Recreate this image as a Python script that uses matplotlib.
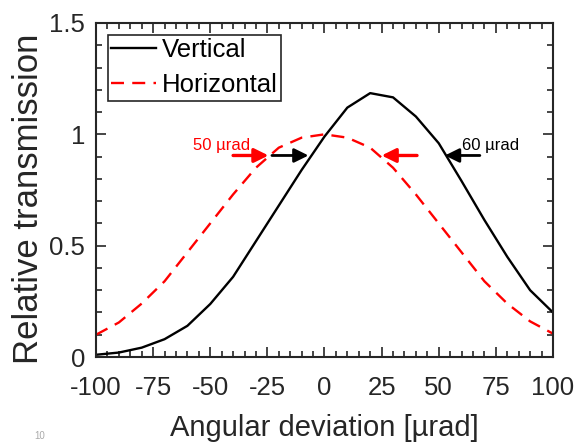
import matplotlib
matplotlib.use("Agg")
import matplotlib.pyplot as plt
from matplotlib.ticker import MultipleLocator

plt.rcParams['font.family'] = ['Liberation Sans', 'DejaVu Sans']
plt.rcParams['axes.unicode_minus'] = False

# angular deviation [urad]
angle = [-100, -90, -80, -70, -60, -50, -40, -30, -20, -10, 0,
         10, 20, 30, 40, 50, 60, 70, 80, 90, 100]
vertical = [0.01, 0.02, 0.042, 0.08, 0.14, 0.238, 0.36, 0.52, 0.68, 0.84, 0.99,
            1.12, 1.185, 1.166, 1.08, 0.96, 0.79, 0.615, 0.45, 0.30, 0.20]
horizontal = [0.10, 0.155, 0.24, 0.34, 0.47, 0.60, 0.73, 0.85, 0.94, 0.985, 1.0,
              0.985, 0.94, 0.85, 0.73, 0.60, 0.47, 0.34, 0.24, 0.16, 0.105]

xticks = [-100, -75, -50, -25, 0, 25, 50, 75, 100]
yticks = [0, 0.5, 1, 1.5]
yticklabels = ['0', '0.5', '1', '1.5']

# width arrows (start, end) at the level y_arrow
y_arrow = 0.905
red_arrows = [(-40, -24.5), (40.5, 25)]
black_arrows = [(-23, -7), (68, 52.7)]

fig = plt.figure(figsize=(5.78, 4.42), dpi=100)
ax = fig.add_axes([0.1661, 0.1923, 0.7906, 0.7557])

ax.plot(angle, vertical, color='black', lw=1.7, label='Vertical')
ax.plot(angle, horizontal, color='red', lw=1.7, linestyle=(0, (5.5, 3.5)),
        label='Horizontal')

style = '-|>,head_length=0.85,head_width=0.42'
for x0, x1 in red_arrows:
    ax.annotate('', xy=(x1, y_arrow), xytext=(x0, y_arrow),
                arrowprops=dict(arrowstyle=style, color='red', lw=2.4,
                                shrinkA=0, shrinkB=0))
for x0, x1 in black_arrows:
    ax.annotate('', xy=(x1, y_arrow), xytext=(x0, y_arrow),
                arrowprops=dict(arrowstyle=style, color='black', lw=2.0,
                                shrinkA=0, shrinkB=0))

ax.text(-32.5, 0.95, '50 µrad', color='red', fontsize=12, ha='right', va='center')
ax.text(60.4, 0.95, '60 µrad', color='black', fontsize=12, ha='left', va='center')

ax.set_xlim(-100, 100)
ax.set_ylim(0, 1.5)
ax.set_xticks(xticks)
ax.set_yticks(yticks)
ax.set_yticklabels(yticklabels)
ax.xaxis.set_minor_locator(MultipleLocator(5))
ax.yaxis.set_minor_locator(MultipleLocator(0.1))

dark = '#262626'
ax.tick_params(which='both', direction='in', top=True, right=True,
               colors=dark, labelsize=18.5)
ax.tick_params(which='major', length=7, width=1.2)
ax.tick_params(which='minor', length=4, width=1.2)
ax.tick_params(axis='x', pad=14)
ax.tick_params(axis='y', pad=8)
for s in ax.spines.values():
    s.set_color(dark)
    s.set_linewidth(1.5)

ax.set_xlabel('Angular deviation [µrad]', fontsize=21, color=dark, labelpad=10)
ax.set_ylabel('Relative transmission', fontsize=25, color=dark)
ax.yaxis.set_label_coords(-0.112, 0.475)

leg = ax.legend(loc='upper left', fontsize=18.5, frameon=True, fancybox=False,
                edgecolor=dark, framealpha=1, borderpad=0.15, labelspacing=0.4,
                handlelength=1.75, handletextpad=0.2, borderaxespad=0.45)
leg.get_frame().set_linewidth(1.2)

# faint text at the bottom edge of the source image
fig.text(0.06, 0.002, '10', fontsize=7, color='#aaaaaa', ha='left', va='bottom')

fig.savefig('out.png', dpi=100)
